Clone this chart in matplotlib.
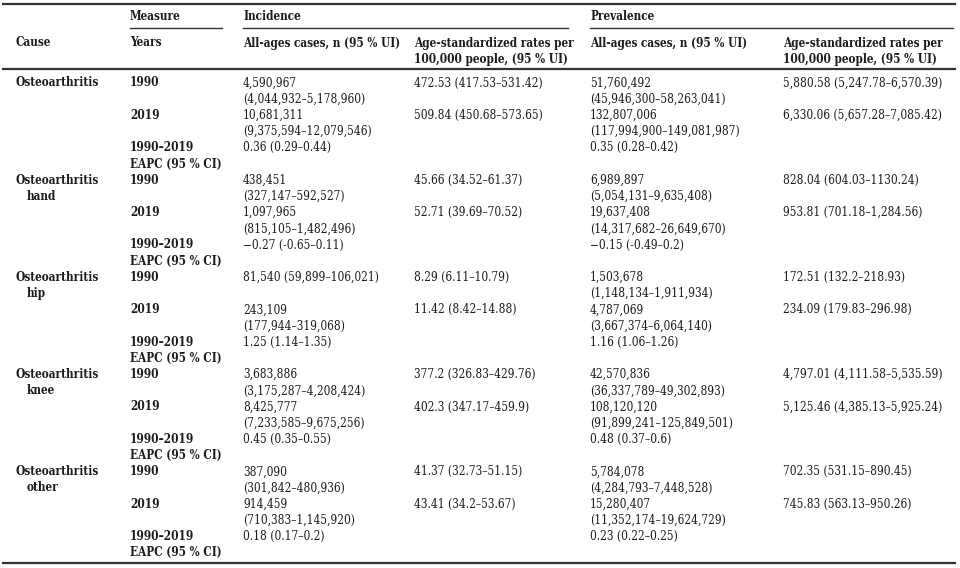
import matplotlib.pyplot as plt
from matplotlib import font_manager

# table content
causes = ["Osteoarthritis", "Osteoarthritis\nhand", "Osteoarthritis\nhip",
          "Osteoarthritis\nknee", "Osteoarthritis\nother"]
years = ["1990", "2019", "1990–2019\nEAPC (95 % CI)"]

inc_cases = [
    ["4,590,967\n(4,044,932–5,178,960)", "10,681,311\n(9,375,594–12,079,546)", "0.36 (0.29–0.44)"],
    ["438,451\n(327,147–592,527)", "1,097,965\n(815,105–1,482,496)", "\u22120.27 (-0.65–0.11)"],
    ["81,540 (59,899–106,021)", "243,109\n(177,944–319,068)", "1.25 (1.14–1.35)"],
    ["3,683,886\n(3,175,287–4,208,424)", "8,425,777\n(7,233,585–9,675,256)", "0.45 (0.35–0.55)"],
    ["387,090\n(301,842–480,936)", "914,459\n(710,383–1,145,920)", "0.18 (0.17–0.2)"],
]
inc_rate = [
    ["472.53 (417.53–531.42)", "509.84 (450.68–573.65)", ""],
    ["45.66 (34.52–61.37)", "52.71 (39.69–70.52)", ""],
    ["8.29 (6.11–10.79)", "11.42 (8.42–14.88)", ""],
    ["377.2 (326.83–429.76)", "402.3 (347.17–459.9)", ""],
    ["41.37 (32.73–51.15)", "43.41 (34.2–53.67)", ""],
]
prev_cases = [
    ["51,760,492\n(45,946,300–58,263,041)", "132,807,006\n(117,994,900–149,081,987)", "0.35 (0.28–0.42)"],
    ["6,989,897\n(5,054,131–9,635,408)", "19,637,408\n(14,317,682–26,649,670)", "\u22120.15 (-0.49–0.2)"],
    ["1,503,678\n(1,148,134–1,911,934)", "4,787,069\n(3,667,374–6,064,140)", "1.16 (1.06–1.26)"],
    ["42,570,836\n(36,337,789–49,302,893)", "108,120,120\n(91,899,241–125,849,501)", "0.48 (0.37–0.6)"],
    ["5,784,078\n(4,284,793–7,448,528)", "15,280,407\n(11,352,174–19,624,729)", "0.23 (0.22–0.25)"],
]
prev_rate = [
    ["5,880.58 (5,247.78–6,570.39)", "6,330.06 (5,657.28–7,085.42)", ""],
    ["828.04 (604.03–1130.24)", "953.81 (701.18–1,284.56)", ""],
    ["172.51 (132.2–218.93)", "234.09 (179.83–296.98)", ""],
    ["4,797.01 (4,111.58–5,535.59)", "5,125.46 (4,385.13–5,925.24)", ""],
    ["702.35 (531.15–890.45)", "745.83 (563.13–950.26)", ""],
]

# prefer a condensed slab-ish serif, otherwise Times-like Liberation Serif
_cond = font_manager.findfont(font_manager.FontProperties(family="DejaVu Serif", stretch="condensed"))
if "Condensed" in _cond:
    FONT, STRETCH, FS = "DejaVu Serif", "condensed", 8.5
else:
    FONT, STRETCH, FS = "Liberation Serif", "normal", 9.7
TXT = "#1c1c1c"
LN = "#333333"
LINE_H = 16.2

fig = plt.figure(figsize=(9.6, 5.68), dpi=100)
ax = fig.add_axes([0, 0, 1, 1])
ax.set_xlim(0, 960)
ax.set_ylim(568, 0)
ax.axis("off")


def put(x, y, s, bold=False, indent=0):
    # draw each line by hand so spacing matches the table rows
    for k, part in enumerate(s.split("\n")):
        ax.text(x + (indent if k > 0 else 0), y + k * LINE_H, part,
                fontsize=FS, family=FONT, stretch=STRETCH, color=TXT,
                va="baseline", fontweight="bold" if bold else "normal")


x_cause, x_year, x_ic, x_ir, x_pc, x_pr = 16, 130, 243, 414, 590, 783

# rules
ax.plot([3, 955], [4, 4], color=LN, lw=1.6)
ax.plot([x_year, 222], [28, 28], color=LN, lw=1.0)
ax.plot([x_ic, 568], [28, 28], color=LN, lw=1.0)
ax.plot([x_pc, 953], [28, 28], color=LN, lw=1.0)
ax.plot([3, 955], [69, 69], color=LN, lw=1.6)
ax.plot([3, 955], [563, 563], color=LN, lw=1.6)

# header
put(x_year, 20.5, "Measure", bold=True)
put(x_ic, 20.5, "Incidence", bold=True)
put(x_pc, 20.5, "Prevalence", bold=True)
put(x_cause, 46.5, "Cause", bold=True)
put(x_year, 46.5, "Years", bold=True)
put(x_ic, 46.5, "All-ages cases, n (95 % UI)", bold=True)
put(x_ir, 46.5, "Age-standardized rates per\n100,000 people, (95 % UI)", bold=True)
put(x_pc, 46.5, "All-ages cases, n (95 % UI)", bold=True)
put(x_pr, 46.5, "Age-standardized rates per\n100,000 people, (95 % UI)", bold=True)

# body
base = 86.5
for i, cause in enumerate(causes):
    y0 = base + i * 6 * LINE_H
    put(x_cause, y0, cause, bold=True, indent=11)
    for j, yr in enumerate(years):
        y = y0 + j * 2 * LINE_H
        put(x_year, y, yr, bold=True)
        put(x_ic, y, inc_cases[i][j])
        put(x_ir, y, inc_rate[i][j])
        put(x_pc, y, prev_cases[i][j])
        put(x_pr, y, prev_rate[i][j])

fig.savefig("out.png", dpi=100, facecolor="white")
